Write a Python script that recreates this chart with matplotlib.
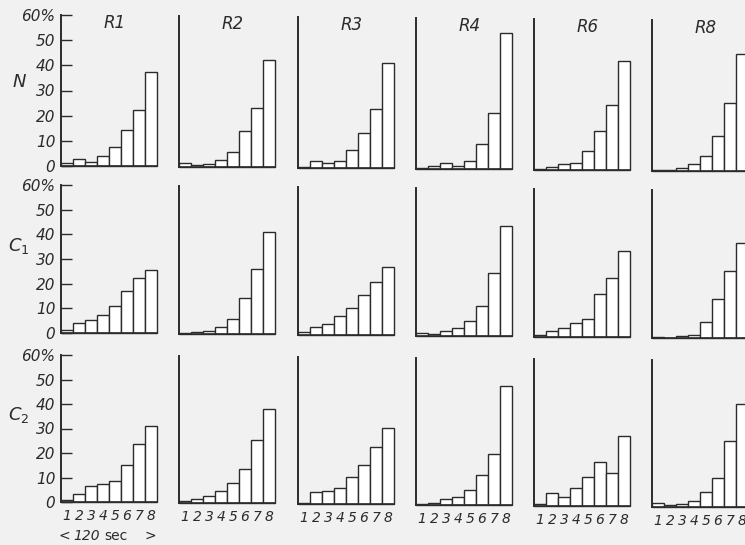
import numpy as np
import matplotlib
matplotlib.use('Agg')
import matplotlib.pyplot as plt

# intervals 1..8 (each 120 sec), percent of cases
bins = [1, 2, 3, 4, 5, 6, 7, 8]
cols = ['R1', 'R2', 'R3', 'R4', 'R6', 'R8']
rows = ['N', 'C_1', 'C_2']

n_vals = [
    [1.3, 2.9, 1.6, 3.9, 7.4, 14.2, 22.3, 37.2],
    [1.7, 0.7, 1.2, 2.9, 6.1, 14.5, 23.4, 42.7],
    [0.5, 2.9, 2.1, 2.9, 7.0, 13.8, 23.6, 41.7],
    [0.3, 1.2, 2.2, 1.2, 3.3, 10.0, 22.4, 54.0],
    [0.5, 1.2, 2.3, 2.9, 7.4, 15.5, 26.0, 43.4],
    [0.5, 0.4, 1.2, 2.9, 6.0, 13.9, 27.2, 46.6],
]
c1_vals = [
    [1.3, 4.0, 5.1, 7.1, 10.8, 17.2, 22.5, 25.6],
    [0.3, 0.7, 1.1, 2.7, 6.0, 14.7, 26.3, 41.5],
    [1.1, 3.3, 4.3, 7.7, 11.1, 16.3, 21.3, 27.6],
    [1.1, 0.8, 1.9, 3.3, 6.1, 12.3, 25.5, 44.5],
    [0.8, 2.5, 3.6, 5.5, 7.3, 17.6, 23.9, 34.7],
    [0.4, 0.1, 0.8, 1.3, 6.4, 16.0, 27.1, 38.4],
]
c2_vals = [
    [0.8, 3.1, 6.7, 7.2, 8.7, 15.1, 23.7, 31.2],
    [0.7, 1.5, 2.9, 4.9, 8.2, 13.8, 25.6, 38.2],
    [0.5, 5.0, 5.3, 6.4, 10.9, 15.8, 23.1, 31.2],
    [0.4, 0.7, 2.3, 3.3, 6.2, 12.2, 20.7, 48.6],
    [0.9, 5.4, 3.6, 7.2, 11.7, 17.9, 13.5, 28.4],
    [1.7, 0.7, 1.2, 2.5, 6.0, 11.8, 27.1, 42.1],
]
all_vals = [n_vals, c1_vals, c2_vals]
yticks = [0, 10, 20, 30, 40, 50, 60]
ytick_labels = ['0', '10', '20', '30', '40', '50', '60%']

W, H = 745, 545
bg = '#f2f1f1'
ink = '#2b2b2b'
font = ['DejaVu Sans']

fig = plt.figure(figsize=(W / 100, H / 100), dpi=100, facecolor=bg)

# pixel layout (from the scan)
col_x = [61, 179, 298, 416, 534, 652]
row_top = [15, 185, 355]
row_bot = [166, 333, 502]
panel_w = 96

for r in range(3):
    for c in range(6):
        dy = c * 1.0
        top = row_top[r] + dy
        bot = row_bot[r] + dy
        ax = fig.add_axes([col_x[c] / W, 1 - bot / H, panel_w / W, (bot - top) / H])
        ax.set_facecolor('none')
        ax.bar(bins, all_vals[r][c], width=1.0, color='white', edgecolor=ink,
               linewidth=1.0, clip_on=False)
        ax.set_xlim(0.5, 8.5)
        ax.set_ylim(0, 60)
        for s in ['top', 'right']:
            ax.spines[s].set_visible(False)
        ax.spines['left'].set_linewidth(1.4)
        ax.spines['bottom'].set_linewidth(1.2)
        ax.spines['left'].set_color(ink)
        ax.spines['bottom'].set_color(ink)
        if c == 0:
            ax.set_yticks(yticks)
            ax.set_yticklabels(ytick_labels, fontstyle='italic', fontsize=11, color=ink, family=font)
            ax.tick_params(axis='y', direction='in', length=8, width=1.0, color=ink, pad=4)
        else:
            ax.set_yticks([])
        if r == 2:
            ax.set_xticks(bins)
            ax.set_xticklabels([str(b) for b in bins], fontstyle='italic', fontsize=10, color=ink, family=font)
            ax.tick_params(axis='x', length=0, pad=5)
        else:
            ax.set_xticks([])
        if r == 0:
            ax.text(5.0, 57, cols[c], ha='center', va='center', fontstyle='italic',
                    fontsize=12, color=ink, family=font)

# row labels
row_y = [82, 246, 415]
for r in range(3):
    fig.text(19 / W, 1 - row_y[r] / H, '$' + rows[r] + '$', ha='center', va='center',
             fontsize=13, color=ink)

# time axis note
ty = 1 - 536 / H
fig.text(64 / W, ty, '<', ha='center', va='center', fontsize=10, color=ink, family=font)
fig.text(73 / W, ty, '120', ha='left', va='center', fontsize=10, fontstyle='italic', color=ink, family=font)
fig.text(104 / W, ty, 'sec', ha='left', va='center', fontsize=10, color=ink, family=font)
fig.text(150 / W, ty, '>', ha='center', va='center', fontsize=10, color=ink, family=font)

fig.savefig('out.png', dpi=100, facecolor=bg)
